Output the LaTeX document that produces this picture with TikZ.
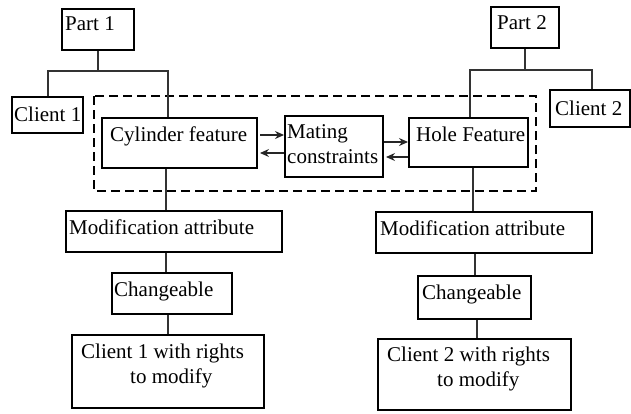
\documentclass[tikz,border=0pt]{standalone}
\usepackage{fontspec}
\setmainfont{Liberation Serif}
\usetikzlibrary{arrows.meta}
\begin{document}
\begin{tikzpicture}[x=1pt,y=-1pt,
  box/.style={draw=black,line width=2pt,rectangle,inner sep=0pt},
  txt/.style={anchor=base west,inner sep=0pt,font=\fontsize{21}{25}\selectfont},
  conn/.style={draw=black!80,line width=1.2pt},
  arr/.style={draw=black!85,line width=1.2pt,-{Stealth[length=9pt,width=8pt,inset=3pt]}},
  dashbox/.style={draw=black,line width=2.2pt,dash pattern=on 9pt off 5pt}]
\useasboundingbox (0,0) rectangle (631,413);

% boxes
\node[box,minimum width=72pt,minimum height=41pt] (p1) at (98,29.5) {};
\node[box,minimum width=68pt,minimum height=41pt] (p2) at (525,27.5) {};
\node[box,minimum width=71pt,minimum height=36pt] (c1) at (47.5,115) {};
\node[box,minimum width=80pt,minimum height=37pt] (c2) at (590,108.5) {};
\node[box,minimum width=155pt,minimum height=50pt] (cyl) at (179.5,143) {};
\node[box,minimum width=98pt,minimum height=61pt] (mat) at (334,146.5) {};
\node[box,minimum width=119pt,minimum height=49pt] (hole) at (468.5,142.5) {};
\node[box,minimum width=216pt,minimum height=41pt] (mod1) at (174,231.5) {};
\node[box,minimum width=216pt,minimum height=41pt] (mod2) at (484,232.5) {};
\node[box,minimum width=120pt,minimum height=41pt] (ch1) at (172,293.5) {};
\node[box,minimum width=113pt,minimum height=43pt] (ch2) at (474.5,297.5) {};
\node[box,minimum width=192pt,minimum height=73pt] (r1) at (168,371.5) {};
\node[box,minimum width=193pt,minimum height=71pt] (r2) at (474.5,374.5) {};

% dashed group
\draw[dashbox] (94,96) rectangle (536,191);

% texts
\node[txt] (tp1) at (65,30) {Part 1};
\node[txt] (tp2) at (497,29) {Part 2};
\node[txt] (tc1) at (14,121) {Client 1};
\node[txt] (tc2) at (555,115) {Client 2};
\node[txt] (tcyl) at (110,141) {Cylinder feature};
\node[txt] (tm1) at (287,138) {Mating};
\node[txt] (tm2) at (287,163) {constraints};
\node[txt] (thole) at (416,141) {Hole Feature};
\node[txt] (tmod1) at (69,234) {Modification attribute};
\node[txt] (tmod2) at (380,235) {Modification attribute};
\node[txt] (tch1) at (114,296) {Changeable};
\node[txt] (tch2) at (422,299) {Changeable};
\node[txt] (tr1a) at (81,358) {Client 1 with rights};
\node[txt] (tr1b) at (130,383) {to modify};
\node[txt] (tr2a) at (387,361) {Client 2 with rights};
\node[txt] (tr2b) at (437,386) {to modify};

% tree connectors
\coordinate (j1) at (98,71);
\coordinate (j2) at (525,70);
\draw[conn] (p1.south) -- (j1);
\draw[conn] (c1.north -| 48,0) |- (j1);
\draw[conn] (j1) -| (cyl.north -| 168,0);
\draw[conn] (p2.south) -- (j2);
\draw[conn] (j2) -| (hole.north -| 470,0);
\draw[conn] (j2) -| (c2.north -| 592,0);

% vertical chains
\draw[conn] (cyl.south -| 166,0) -- (mod1.north -| 166,0);
\draw[conn] (mod1.south -| 166,0) -- (ch1.north -| 166,0);
\draw[conn] (ch1.south -| 168,0) -- (r1.north -| 168,0);
\draw[conn] (hole.south -| 473,0) -- (mod2.north -| 473,0);
\draw[conn] (mod2.south -| 475,0) -- (ch2.north -| 475,0);
\draw[conn] (ch2.south -| 477,0) -- (r2.north -| 477,0);

% mating arrows
\draw[arr] ([xshift=2pt]cyl.east |- 0,135) -- (mat.west |- 0,135);
\draw[arr] (mat.west |- 0,153) -- ([xshift=2pt]cyl.east |- 0,153);
\draw[arr] (mat.east |- 0,142) -- (hole.west |- 0,142);
\draw[arr] (hole.west |- 0,157) -- ([xshift=2pt]mat.east |- 0,157);
\end{tikzpicture}
\end{document}
